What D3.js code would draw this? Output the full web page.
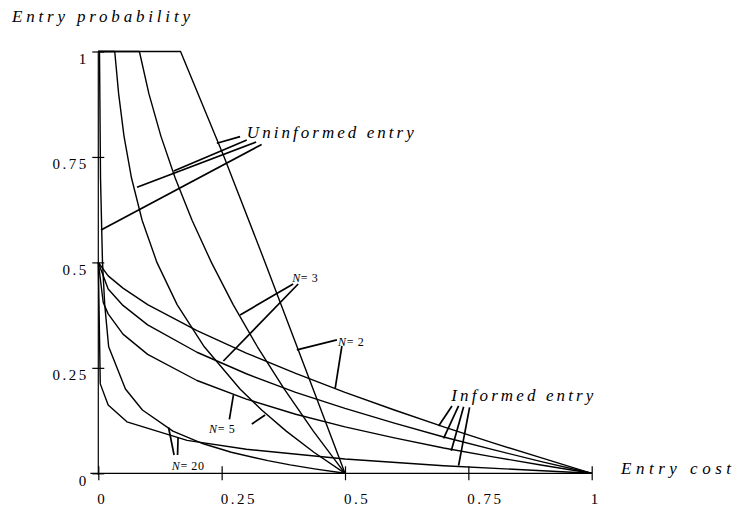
<!DOCTYPE html>
<html>
<head>
<meta charset="utf-8">
<script src="https://cdn.jsdelivr.net/npm/d3@7"></script>
<style>
  html, body { margin: 0; padding: 0; background: #fff; }
  svg { display: block; }
  svg text { font-family: "Liberation Serif", "Times New Roman", "DejaVu Serif", serif !important; fill: #000; }
</style>
</head>
<body>
<div id="chart"></div>
<script>
// ---------- data (entry cost c, entry probability p) ----------
const xTickValues = [0, 0.25, 0.5, 0.75, 1];
const xTickLabels = ["0", "0.25", "0.5", "0.75", "1"];
const yTickValues = [0, 0.25, 0.5, 0.75, 1];
const yTickLabels = ["0", "0.25", "0.5", "0.75", "1"];

const uninformedN2 = [[0,1],[0.1667,1],[0.255,0.75],[0.338,0.5],[0.419,0.25],[0.5,0]];
const uninformedN3 = [[0,1],[0.0833,1],[0.1025,0.9],[0.1267,0.8],[0.1558,0.7],[0.19,0.6],[0.2292,0.5],
  [0.2733,0.4],[0.3225,0.3],[0.3767,0.2],[0.4358,0.1],[0.5,0]];
const uninformedN5 = [[0,1],[0.0333,1],[0.0412,0.9],[0.052,0.8],[0.0673,0.7],[0.0888,0.6],[0.1188,0.5],
  [0.1597,0.4],[0.2148,0.3],[0.2872,0.2],[0.3311,0.15],[0.3809,0.1],[0.4369,0.05],[0.5,0]];
const uninformedN20 = [[0,1],[0.0024,1],[0.0045,0.7],[0.0085,0.5],[0.013,0.4],[0.021,0.3],[0.055,0.2],
  [0.0894,0.15],[0.1512,0.1],[0.2128,0.07],[0.2695,0.05],[0.3437,0.03],[0.3887,0.02],[0.4414,0.01],[0.5,0]];

const informedN2 = [[0,0.5],[0.02,0.468],[0.05,0.439],[0.1,0.4],[0.2,0.338],[0.3,0.285],[0.4,0.237],
  [0.5,0.192],[0.6,0.15],[0.7,0.11],[0.8,0.072],[0.9,0.036],[1,0]];
const informedN3 = [[0,0.5],[0.02,0.437],[0.05,0.398],[0.1,0.352],[0.2,0.287],[0.3,0.236],[0.4,0.192],
  [0.5,0.154],[0.6,0.119],[0.7,0.086],[0.8,0.056],[0.9,0.027],[1,0]];
const informedN5 = [[0,0.5],[0.01,0.405],[0.02,0.378],[0.05,0.33],[0.1,0.282],[0.2,0.22],[0.3,0.176],
  [0.4,0.14],[0.5,0.11],[0.6,0.084],[0.7,0.06],[0.8,0.039],[0.9,0.019],[1,0]];
const informedN20 = [[0,0.5],[0.004,0.212],[0.02,0.162],[0.058,0.122],[0.18,0.078],[0.3,0.057],
  [0.5,0.034],[0.7,0.018],[1,0]];

// annotation leader lines, in data units: [c1,p1,c2,p2]
const uninformedLeaders = [[0.2874,0.7982,0.2402,0.7826],[0.3010,0.7902,0.1529,0.7167],
  [0.3199,0.7855,0.0785,0.6780],[0.3310,0.7795,0.0055,0.5768]];
const informedLeaders = [[0.7168,0.1596,0.6897,0.1121],[0.7302,0.1596,0.6998,0.0830],
  [0.7404,0.1579,0.7154,0.0536],[0.7525,0.1565,0.7302,0.018]];
const nLeaders = [
  [0.3949,0.4488,0.2874,0.3754],[0.4051,0.4488,0.2535,0.2662],   // N=3
  [0.4836,0.3163,0.4024,0.2926],[0.4937,0.3018,0.4801,0.2015],   // N=2
  [0.2657,0.1280,0.2738,0.1856],[0.3112,0.1169,0.3381,0.1382],   // N=5
  [0.1536,0.0434,0.1424,0.1086],[0.1606,0.0434,0.1617,0.0860]    // N=20
];
const nLabels = [["3",0.393,0.4535],["2",0.486,0.3018],["5",0.2246,0.0956],["20",0.1489,0.0078]];
const groupLabels = [["Uninformed entry",0.301,0.795,167],["Informed entry",0.7154,0.1714,142]];

// ---------- drawing ----------
const W = 735, H = 509;
const FONT = "Liberation Serif, Times New Roman, serif";
const svg = d3.select("#chart").append("svg").attr("width", W).attr("height", H)
  .attr("font-family", FONT);

const x = d3.scaleLinear().domain([0, 1]).range([98.3, 591.7]);
const y = d3.scaleLinear().domain([0, 1]).range([473.3, 51.5]);

// x axis
const gx = svg.append("g").attr("transform", `translate(0,${y(0)})`)
  .call(d3.axisBottom(x).tickValues(xTickValues).tickSize(7).tickSizeOuter(0)
    .tickFormat((d, i) => xTickLabels[i]));
gx.attr("font-family", FONT).attr("font-size", 15);
gx.select(".domain").remove();
gx.selectAll(".tick line").attr("y1", -7).attr("y2", 7).attr("stroke", "#000").attr("stroke-width", 1.2);
gx.selectAll(".tick text").attr("text-anchor", "start").attr("x", -1.5).attr("y", 31).attr("dy", 0)
  .style("font-size", "15px").style("letter-spacing", "2.5px").attr("fill", "#000");
gx.append("line").attr("x1", x(-0.016)).attr("x2", x(1)).attr("y1", 0).attr("y2", 0)
  .attr("stroke", "#000").attr("stroke-width", 1.2);

// y axis
const gy = svg.append("g").attr("transform", `translate(${x(0)},0)`)
  .call(d3.axisLeft(y).tickValues(yTickValues).tickSize(6).tickSizeOuter(0)
    .tickFormat((d, i) => yTickLabels[i]));
gy.attr("font-family", FONT).attr("font-size", 15);
gy.select(".domain").remove();
gy.selectAll(".tick line").attr("x1", -6).attr("x2", 6).attr("stroke", "#000").attr("stroke-width", 1.2);
gy.selectAll(".tick text").attr("text-anchor", "end").attr("x", -9.5).attr("y", 12).attr("dy", 0)
  .style("font-size", "15px").style("letter-spacing", "2.5px").attr("fill", "#000");
gy.append("line").attr("x1", 0).attr("x2", 0).attr("y1", y(1)).attr("y2", y(-0.004))
  .attr("stroke", "#000").attr("stroke-width", 1.2);

// curves
const line = d3.line().x(d => x(d[0])).y(d => y(d[1]));
const series = [uninformedN2, uninformedN3, uninformedN5, uninformedN20,
                informedN2, informedN3, informedN5, informedN20];
svg.append("g").selectAll("path").data(series).join("path")
  .attr("d", line).attr("fill", "none").attr("stroke", "#000")
  .attr("stroke-width", 1.4).attr("stroke-linejoin", "round");

// leaders
const leaders = uninformedLeaders.concat(informedLeaders, nLeaders);
svg.append("g").selectAll("line").data(leaders).join("line")
  .attr("x1", d => x(d[0])).attr("y1", d => y(d[1]))
  .attr("x2", d => x(d[2])).attr("y2", d => y(d[3]))
  .attr("stroke", "#000").attr("stroke-width", 1.7).attr("stroke-linecap", "butt");

// N labels
const nt = svg.append("g").selectAll("text").data(nLabels).join("text")
  .attr("x", d => x(d[1])).attr("y", d => y(d[2]))
  .style("font-size", "12px").style("letter-spacing", "0.6px");
nt.append("tspan").style("font-style", "italic").text("N");
nt.append("tspan").text(d => "= " + d[0]);

// group labels
svg.append("g").selectAll("text").data(groupLabels).join("text")
  .attr("x", d => x(d[1])).attr("y", d => y(d[2]))
  .attr("textLength", d => d[3]).attr("lengthAdjust", "spacing")
  .style("font-style", "italic").style("font-size", "17px").text(d => d[0]);

// axis titles
svg.append("text").attr("x", 12).attr("y", 22).attr("textLength", 178).attr("lengthAdjust", "spacing")
  .style("font-style", "italic").style("font-size", "17px").text("Entry probability");
svg.append("text").attr("x", 621).attr("y", 474).attr("textLength", 110).attr("lengthAdjust", "spacing")
  .style("font-style", "italic").style("font-size", "17px").text("Entry cost");
</script>
</body>
</html>
